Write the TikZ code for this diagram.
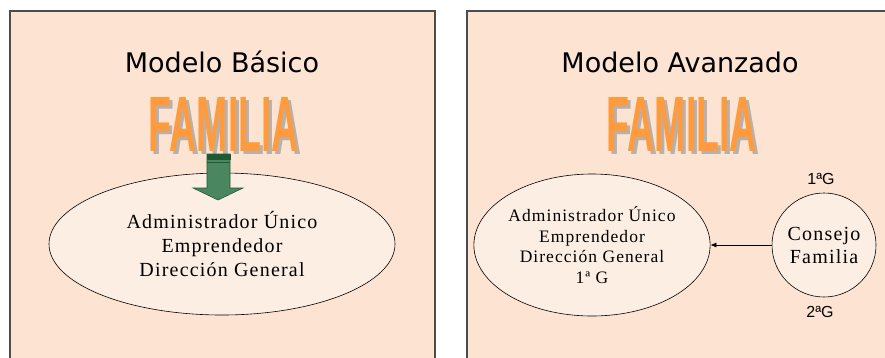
\documentclass[tikz,border=0pt]{standalone}
\usepackage{fontspec}
\usepackage{graphicx}
\setmainfont{Liberation Serif}[LetterSpace=6]
\newfontfamily\titlefont{DejaVu Sans}
\newfontfamily\genfont{Liberation Sans}
\newfontfamily\famfont{Liberation Sans}
\usetikzlibrary{arrows.meta,shapes.geometric}
\definecolor{panelfill}{HTML}{FDE4D2}
\definecolor{ovalfill}{HTML}{FDEEE4}
\definecolor{famorange}{HTML}{FF9B3D}
\definecolor{famshade}{HTML}{B8B0AA}
\definecolor{arrowgreen}{HTML}{4A8760}
\definecolor{arrowdark}{HTML}{1F5A32}
\tikzset{
  panel/.style={fill=panelfill, draw=black!70, line width=1.1pt},
  oval/.style={ellipse, draw=black, fill=ovalfill, line width=0.6pt, inner sep=0pt, align=center},
  titletext/.style={font=\titlefont\fontsize{27}{32}\selectfont},
  famtext/.style={inner sep=0pt}
}
\newcommand{\famword}{\resizebox{150pt}{54pt}{\famfont\bfseries FAMILIA}}
% word with its grey shadow, as one box
\newcommand{\famlogo}{\makebox[0pt][l]{\hspace{3pt}\raisebox{-3pt}{\textcolor{famshade}{\famword}}}\textcolor{famorange}{\famword}}
\begin{document}
\begin{tikzpicture}[x=1pt, y=-1pt]
		%%%%% START %%%%%
		\useasboundingbox[fill=white] (0, 0) rectangle (885, 357);
		\clip (0, 0) rectangle (885, 357);
		
		% two panels
		\draw[panel] (10, 370) -- (10, 11) -- (435, 11) -- (435, 370);
		\draw[panel] (467, 370) -- (467, 11) -- (900, 11) -- (900, 370);
		
		% left: basic model
		\node[titletext] (tbasic) at (222, 62) {Modelo Básico};
		\node[famtext] (fbasic) at (224, 126) {\famlogo};
		
		\node[oval, minimum width=346pt, minimum height=142pt, font=\fontsize{20}{24}\selectfont] (basic) at (222, 244)
		  {Administrador Único\\Emprendedor\\Dirección General};
		
		\draw[fill=arrowgreen, draw=arrowdark, line width=0.6pt]
		  (207, 154) -- (230, 154) -- (230, 188) -- (243, 188) -- (218, 200) -- (193, 188) -- (207, 188) -- cycle;
		\draw[fill=arrowdark, draw=arrowdark] (207, 154) rectangle (230, 159);
		\draw[arrowdark, line width=0.8pt] (207, 162) -- (230, 162);
		
		% right: advanced model
		\node[titletext] (tadv) at (680, 62) {Modelo Avanzado};
		\node[famtext] (fadv) at (682, 126) {\famlogo};
		
		\node[oval, minimum width=225pt, minimum height=142pt, font=\fontsize{17.5}{20.5}\selectfont] (adv) at (592, 245)
		  {Administrador Único\\Emprendedor\\Dirección General\\1ª G};
		
		\node[circle, draw=black, fill=ovalfill, line width=0.6pt, minimum size=104pt, inner sep=0pt, align=center,
		  font=\fontsize{20}{23}\selectfont] (consejo) at (824, 245) {Consejo\\Familia};
		
		\node[font=\genfont\fontsize{16}{19}\selectfont] (g1) at (821, 179) {1ªG};
		\node[font=\genfont\fontsize{16}{19}\selectfont] (g2) at (820, 312) {2ªG};
		
		\draw[line width=0.6pt, -{Latex[length=6pt, width=5pt]}] (consejo) -- (adv);
		%%%%% END %%%%%
\end{tikzpicture}
\end{document}
